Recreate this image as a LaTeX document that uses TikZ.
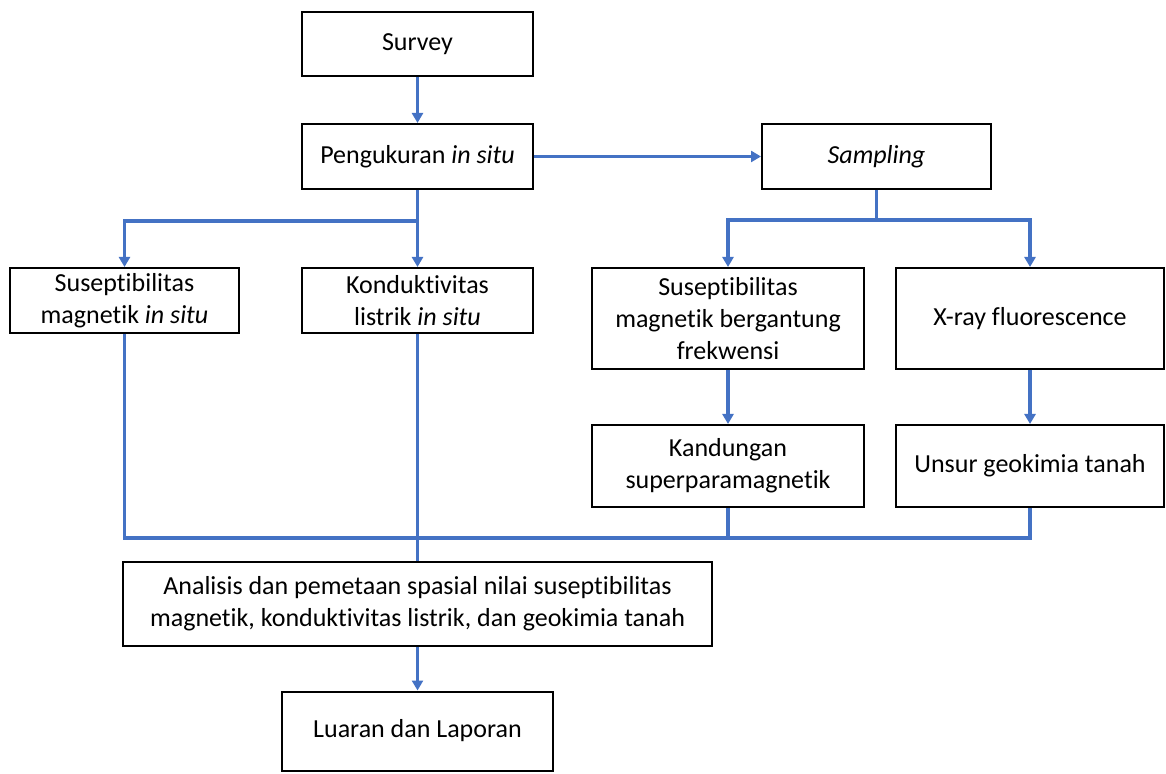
\documentclass[tikz,border=0pt]{standalone}
\usepackage{fontspec}
\setmainfont{Carlito}[Ligatures=NoCommon]
\usepackage{xcolor}
\usetikzlibrary{arrows.meta}
\definecolor{flowblue}{HTML}{4472C4}

\begin{document}
\begin{tikzpicture}[x=0.5pt, y=-0.5pt, >={Triangle[length=5pt, width=5.5pt]},
    box/.style={draw, line width=1pt, align=center, inner sep=0pt, font=\fontsize{13}{16}\selectfont},
    flow/.style={draw=flowblue, line width=1.8pt}]
    \useasboundingbox (0,0) rectangle (1166,774);
    % Survey and in situ measurement
    \node[box, minimum width=115.5pt, minimum height=32pt] (survey) at (417.5,44) {Survey};
    \node[box, minimum width=115.5pt, minimum height=32.5pt] (pengukuran) at (417.5,156.5) {Pengukuran \textit{in situ}};
    \node[box, minimum width=114.5pt, minimum height=32.5pt] (sampling) at (876.5,156.5) {\textit{Sampling}};
    \draw[flow, ->] (survey) -- (pengukuran);
    \draw[flow, ->] (pengukuran) -- (sampling);
%
    % In situ results
    \node[box, minimum width=114.5pt, minimum height=32.5pt] (susinsitu) at (124.5,300.5) {Suseptibilitas\\magnetik \textit{in situ}};
    \node[box, minimum width=115.5pt, minimum height=32.5pt] (konduk) at (417.5,300.5) {Konduktivitas\\listrik \textit{in situ}};
    \coordinate (splitA) at (417.5,221);
    \draw[flow, ->] (pengukuran.south) -- (konduk.north);
    \draw[flow, ->] (splitA) -| (susinsitu.north);
%
    % Laboratory results
    \node[box, minimum width=136pt, minimum height=50.5pt] (susfreq) at (728,318.5) {Suseptibilitas\\magnetik bergantung\\frekwensi};
    \node[box, minimum width=134pt, minimum height=50.5pt] (xrf) at (1030,318.5) {X-ray fluorescence};
    \node[box, minimum width=136pt, minimum height=41pt] (kandungan) at (728,466) {Kandungan\\superparamagnetik};
    \node[box, minimum width=134pt, minimum height=41pt] (unsur) at (1030,466) {Unsur geokimia tanah};
    \coordinate (splitB) at (876.5,220);
    \draw[flow] (sampling.south) -- (splitB);
    \draw[flow, ->] (splitB) -| (susfreq.north);
    \draw[flow, ->] (splitB) -| (xrf.north);
    \draw[flow, ->] (susfreq) -- (kandungan);
    \draw[flow, ->] (xrf) -- (unsur);
%
    % Merge into analysis
    \node[box, minimum width=294.5pt, minimum height=42pt] (analisis) at (417.5,604) {Analisis dan pemetaan spasial nilai suseptibilitas\\magnetik, konduktivitas listrik, dan geokimia tanah};
    \node[box, minimum width=135.5pt, minimum height=39.5pt] (luaran) at (417.5,731) {Luaran dan Laporan};
    \coordinate (mergeL) at (124.5,538);
    \coordinate (mergeR) at (1030,538);
    \draw[flow] (susinsitu.south) -- (mergeL) -- (mergeR) -- (unsur.south);
    \draw[flow] (kandungan.south) -- (kandungan.south |- mergeL);
    \draw[flow] (konduk.south) -- (analisis.north);
    \draw[flow, ->] (analisis) -- (luaran);
\end{tikzpicture}
\end{document}
